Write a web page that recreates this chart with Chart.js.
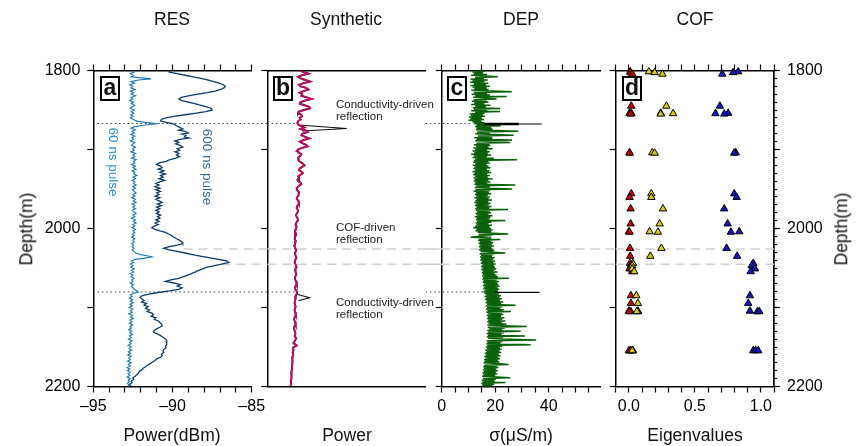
<!DOCTYPE html>
<html>
<head>
<meta charset="utf-8">
<script src="https://cdn.jsdelivr.net/npm/chart.js"></script>
<style>
  html, body { margin: 0; padding: 0; background: #fff; }
  #wrap { position: relative; width: 858px; height: 446px; overflow: hidden;
          font-family: "Liberation Sans", Arial, sans-serif; color: #111; }
  canvas { position: absolute; left: 0; top: 0; }
  .t { position: absolute; white-space: nowrap; line-height: 1; transform: translate(-50%, -50%); z-index: 5; font-size: 17.5px; }
  .rot90 { transform: translate(-50%, -50%) rotate(90deg); }
  .rotm90 { transform: translate(-50%, -50%) rotate(-90deg); }
  .box { position: absolute; width: 20px; height: 25px; box-sizing: border-box; border: 2px solid #000;
         background: #fff; font-weight: bold; font-size: 23px; line-height: 19px; text-align: center; z-index: 5; }
  .note { position: absolute; font-size: 11.5px; line-height: 12px; color: #222; white-space: nowrap; z-index: 5; }
</style>
</head>
<body>
<div id="wrap">
  <canvas id="cA" width="858" height="446"></canvas>
  <canvas id="cB" width="858" height="446"></canvas>
  <canvas id="cC" width="858" height="446"></canvas>
  <canvas id="cD" width="858" height="446"></canvas>

  <div class="t" style="left:172px;top:20px">RES</div>
  <div class="t" style="left:346px;top:20px">Synthetic</div>
  <div class="t" style="left:521px;top:20px">DEP</div>
  <div class="t" style="left:695px;top:20px">COF</div>

  <div class="t" style="left:172px;top:436px">Power(dBm)</div>
  <div class="t" style="left:347px;top:436px">Power</div>
  <div class="t" style="left:521px;top:436px">σ(μS/m)</div>
  <div class="t" style="left:695px;top:436px">Eigenvalues</div>

  <div class="t rotm90" style="left:27px;top:229px">Depth(m)</div>
  <div class="t rotm90" style="left:842px;top:229px">Depth(m)</div>

  <div class="t rot90" style="left:113px;top:162px;font-size:13.5px;color:#2e8fc9">60 ns pulse</div>
  <div class="t rot90" style="left:207px;top:167px;font-size:13.5px;color:#3a6a9c">600 ns pulse</div>

  <div class="box" style="left:100px;top:76px">a</div>
  <div class="box" style="left:273px;top:76px">b</div>
  <div class="box" style="left:447px;top:76px">c</div>
  <div class="box" style="left:622px;top:76px">d</div>

  <div class="note" style="left:336px;top:98px">Conductivity-driven<br>reflection</div>
  <div class="note" style="left:336px;top:221px">COF-driven<br>reflection</div>
  <div class="note" style="left:336px;top:296px">Conductivity-driven<br>reflection</div>
</div>

<script>
// tick labels
const depthTicks = [1800, 2000, 2200];
const resTicks = [-95, -90, -85];
const depTicks = [0, 20, 40];
const eigTicks = [0, 0.5, 1];

// reference lines (depth, m)
const dottedDepth = [1867.1, 2080.4];
const dashedDepth = [2026, 2045.3];

// RES, 60 ns pulse
const d60 = [
  1800,1802,1804,1806,1808,1809,1810.5,1812,1814,1816,
  1818,1820,1822,1824,1826,1828,1830,1832,1834,1836,
  1838,1840,1842,1844,1846,1848,1850,1852,1854,1856,
  1858,1860,1862,1864,1866,1867.5,1869,1871,1873,1875,
  1877,1879,1881,1883,1885,1887,1889,1891,1893,1895,
  1897,1899,1901,1903,1905,1907,1909,1911,1913,1915,
  1917,1919,1921,1923,1925,1927,1929,1931,1933,1935,
  1937,1939,1941,1943,1945,1947,1949,1951,1953,1955,
  1957,1959,1961,1963,1965,1967,1969,1971,1973,1975,
  1977,1979,1981,1983,1985,1987,1989,1991,1993,1995,
  1997,1999,2001,2003,2005,2007,2009,2011,2013,2015,
  2017,2019,2021,2023,2025,2027,2029,2031,2033,2034.5,
  2036,2037.5,2039,2041,2043,2045,2047,2049,2051,2053,
  2055,2057,2059,2061,2063,2065,2067,2069,2071,2073,
  2075,2077,2079,2080.5,2082,2084,2086,2088,2090,2092,
  2094,2096,2098,2100,2102,2104,2106,2108,2110,2112,
  2114,2116,2118,2120,2122,2124,2126,2128,2130,2132,
  2134,2136,2138,2140,2142,2144,2146,2148,2150,2152,
  2154,2156,2158,2160,2162,2164,2166,2168,2170,2172,
  2174,2176,2178,2180,2182,2184,2186,2188,2190,2192,
  2194,2196,2198,2200
];
const p60 = [
  -92.55,-92.42,-92.66,-92.47,-92.60,-92.10,-91.35,-92.15,-92.62,-92.42,
  -92.70,-92.50,-92.63,-92.38,-92.66,-92.46,-92.60,-92.34,-92.62,-92.50,
  -92.70,-92.46,-92.60,-92.38,-92.55,-92.66,-92.42,-92.60,-92.46,-92.63,
  -92.50,-92.66,-92.46,-92.25,-91.60,-91.00,-91.70,-92.40,-92.62,-92.34,
  -92.55,-92.42,-92.62,-92.38,-92.55,-92.46,-92.66,-92.38,-92.50,-92.58,
  -92.34,-92.50,-92.42,-92.62,-92.34,-92.50,-92.38,-92.58,-92.30,-92.46,
  -92.38,-92.58,-92.34,-92.50,-92.30,-92.54,-92.38,-92.46,-92.26,-92.50,
  -92.34,-92.54,-92.38,-92.46,-92.30,-92.50,-92.34,-92.54,-92.42,-92.30,
  -92.50,-92.38,-92.58,-92.34,-92.46,-92.30,-92.54,-92.38,-92.50,-92.34,
  -92.54,-92.42,-92.30,-92.50,-92.38,-92.58,-92.34,-92.46,-92.30,-92.50,
  -92.38,-92.54,-92.34,-92.50,-92.38,-92.54,-92.42,-92.58,-92.38,-92.50,
  -92.42,-92.58,-92.46,-92.55,-92.42,-92.55,-92.46,-92.32,-92.00,-91.60,
  -91.30,-91.75,-92.35,-92.58,-92.46,-92.66,-92.50,-92.63,-92.42,-92.58,
  -92.46,-92.66,-92.50,-92.63,-92.42,-92.58,-92.50,-92.66,-92.46,-92.58,
  -92.50,-92.40,-92.25,-92.15,-92.45,-92.66,-92.55,-92.72,-92.52,-92.65,
  -92.48,-92.68,-92.55,-92.72,-92.52,-92.65,-92.56,-92.76,-92.52,-92.65,
  -92.48,-92.68,-92.56,-92.72,-92.52,-92.68,-92.60,-92.76,-92.56,-92.70,
  -92.52,-92.72,-92.60,-92.78,-92.56,-92.70,-92.62,-92.80,-92.60,-92.74,
  -92.58,-92.78,-92.65,-92.82,-92.62,-92.75,-92.66,-92.83,-92.62,-92.78,
  -92.66,-92.86,-92.70,-92.84,-92.67,-92.80,-92.70,-92.86,-92.67,-92.80,
  -92.72,-92.84,-92.75,-92.80
];

// RES, 600 ns pulse
const d600 = [
  1800,1802,1804,1806,1808,1810,1812,1814,1816,1818,
  1820,1822,1824,1826,1828,1830,1832,1834,1836,1838,
  1840,1842,1844,1846,1848,1850,1852,1854,1856,1858,
  1860,1862,1864,1866,1868,1870,1872,1874,1875.5,1877,
  1879,1880.5,1882,1884,1885.5,1887,1889,1891,1893,1895,
  1897,1899,1901,1903,1905,1907,1909,1911,1913,1915,
  1917,1919,1921,1923,1925,1927,1929,1931,1933,1935,
  1937,1939,1941,1943,1945,1947,1949,1951,1953,1955,
  1957,1959,1961,1963,1965,1967,1969,1971,1973,1975,
  1977,1979,1981,1983,1985,1987,1989,1991,1993,1995,
  1997,1999,2001,2003,2005,2007,2009,2011,2013,2015,
  2017,2019,2021,2023,2025,2027,2029,2031,2033,2035,
  2037,2039,2041,2043,2045,2047,2049,2051,2053,2055,
  2057,2059,2061,2063,2065,2067,2069,2071,2073,2075,
  2077,2079,2081,2083,2085,2087,2089,2091,2093,2095,
  2097,2099,2101,2103,2105,2107,2109,2111,2113,2115,
  2117,2119,2121,2123,2125,2127,2129,2131,2133,2135,
  2137,2139,2141,2143,2145,2147,2149,2151,2153,2155,
  2157,2159,2161,2163,2165,2167,2169,2171,2173,2175,
  2177,2179,2181,2183,2185,2187,2189,2191,2193,2195,
  2197,2199,2200
];
const p600 = [
  -90.25,-90.20,-89.70,-89.20,-88.70,-88.20,-87.80,-87.40,-87.05,-86.80,
  -86.66,-86.75,-86.95,-87.30,-87.80,-88.40,-89.00,-89.45,-89.60,-89.40,
  -89.00,-88.60,-88.20,-87.85,-87.55,-87.50,-87.90,-88.50,-89.20,-89.90,
  -90.40,-90.70,-90.75,-90.30,-89.90,-89.75,-89.55,-89.35,-89.60,-89.20,
  -89.00,-89.40,-89.15,-89.25,-88.95,-89.45,-89.85,-89.60,-89.80,-89.50,
  -89.35,-89.70,-89.55,-89.85,-89.60,-89.75,-89.55,-89.80,-90.20,-90.40,
  -90.85,-91.00,-90.75,-90.65,-90.90,-90.55,-90.80,-90.45,-90.75,-90.60,
  -90.85,-90.50,-90.80,-91.05,-90.85,-91.10,-90.80,-91.05,-90.75,-91.00,
  -90.85,-91.10,-90.80,-91.05,-90.85,-90.65,-90.95,-90.70,-91.00,-90.80,
  -91.05,-90.85,-91.00,-90.75,-90.95,-90.80,-91.05,-90.85,-91.10,-90.90,
  -91.15,-91.30,-91.10,-90.80,-90.45,-90.25,-90.05,-89.90,-89.75,-89.55,
  -89.40,-89.35,-89.70,-90.20,-90.55,-90.20,-89.70,-89.20,-88.75,-88.25,
  -87.70,-87.10,-86.60,-86.45,-86.90,-87.35,-87.80,-88.10,-88.35,-88.55,
  -88.80,-89.05,-89.30,-89.60,-90.10,-90.45,-89.90,-89.50,-89.70,-89.40,
  -89.60,-90.20,-90.90,-91.50,-91.90,-92.05,-91.95,-91.80,-91.95,-91.65,
  -91.80,-91.55,-91.70,-91.45,-91.60,-91.30,-91.20,-91.35,-91.05,-91.15,
  -90.90,-90.80,-90.70,-90.65,-90.80,-91.00,-91.15,-91.20,-91.00,-90.80,
  -90.65,-90.50,-90.40,-90.35,-90.40,-90.35,-90.45,-90.40,-90.55,-90.60,
  -90.55,-90.70,-90.65,-90.75,-91.00,-91.10,-91.25,-91.40,-91.60,-91.70,
  -91.85,-91.95,-92.10,-92.15,-92.25,-92.35,-92.50,-92.45,-92.60,-92.55,
  -92.70,-92.65,-92.75
];

// Synthetic trace (arbitrary power units, 0-100 across the panel)
const dSyn = [
  1800,1802,1804,1806,1808,1810,1812,1814,1816,1818,
  1820,1822,1824,1826,1828,1830,1832,1834,1836,1838,
  1840,1842,1844,1846,1848,1850,1852,1854,1856,1858,
  1860,1862,1864,1866,1868,1870,1872,1874,1876,1878,
  1880,1882,1884,1886,1888,1890,1892,1894,1896,1898,
  1900,1902,1904,1906,1908,1910,1912,1914,1916,1918,
  1920,1922,1924,1926,1928,1930,1932,1934,1936,1938,
  1940,1942,1944,1946,1948,1950,1952,1954,1956,1958,
  1960,1962,1965,1968,1971,1974,1977,1980,1983,1986,
  1989,1992,1995,1998,2001,2004,2007,2010,2013,2016,
  2019,2022,2025,2028,2031,2034,2037,2040,2043,2046,
  2049,2052,2055,2058,2061,2064,2067,2070,2073,2076,
  2079,2082,2085,2088,2091,2094,2097,2100,2103,2106,
  2109,2112,2115,2118,2121,2124,2127,2130,2133,2136,
  2139,2142,2145,2148,2151,2154,2157,2160,2163,2166,
  2169,2172,2175,2178,2181,2184,2187,2190,2193,2196,
  2200
];
const synth = [
  20.5,23,26,22,19.5,21,24,27,23,20,
  21,24.5,26,23,20.5,22,21.5,25,28,24,
  21,20.5,23.5,26.5,27,23,20,19.5,21.5,22,
  20.5,21,19.5,19,19.2,21,23.5,21,24.5,25.5,
  22,21.5,24,26.5,23,20.5,22,24.5,25.5,22,
  19.5,18.5,20,21.5,21,19.5,20,19.5,21,22.5,
  23.5,22,20.5,20,21.5,22.5,21,19.5,20,19,
  19.5,21,21.5,20,19,18.5,19,20,19.5,20,
  19,18.5,19.5,20,19,18.5,19.5,19,18,18.8,
  19.5,18.5,17.8,18.5,18,17.5,18.2,17.8,17.2,18,
  17.6,17,17.8,18.2,17.4,17.8,18.4,17.6,17.2,18,
  18.5,17.5,17.8,18.4,17.6,17.4,18.2,18.6,17.8,17.5,
  18.4,18.8,18,17.6,17.8,17.2,17.6,17.8,17.2,17.5,
  18,17.3,16.8,17.5,17.9,17.1,16.8,17.4,17.8,17.3,
  18.2,17.5,16.5,18.6,16.2,16.6,16,16.4,15.8,16.1,
  15.6,15.9,15.4,15.8,15.2,15.5,15,15.3,14.8,15.1,
  14.6
];
// conductivity-driven spikes in the synthetic trace
const synSpike1Depth = [1869, 1873.5, 1876.5];
const synSpike1 = [19.5, 50.2, 22];
const synSpike2Depth = [2083.3, 2087.6, 2091.4];
const synSpike2 = [18.7, 26.7, 19.7];

// DEP conductivity (µS/m), 1 m samples
const dDep = [
  1800,1801,1802,1803,1804,1805,1806,1807,1808,1809,1810,1811,1812,1813,1814,1815,1816,1817,1818,1819,
  1820,1821,1822,1823,1824,1825,1826,1827,1828,1829,1830,1831,1832,1833,1834,1835,1836,1837,1838,1839,
  1840,1841,1842,1843,1844,1845,1846,1847,1848,1849,1850,1851,1852,1853,1854,1855,1856,1857,1858,1859,
  1860,1861,1862,1863,1864,1865,1866,1867,1868,1869,1870,1871,1872,1873,1874,1875,1876,1877,1878,1879,
  1880,1881,1882,1883,1884,1885,1886,1887,1888,1889,1890,1891,1892,1893,1894,1895,1896,1897,1898,1899,
  1900,1901,1902,1903,1904,1905,1906,1907,1908,1909,1910,1911,1912,1913,1914,1915,1916,1917,1918,1919,
  1920,1921,1922,1923,1924,1925,1926,1927,1928,1929,1930,1931,1932,1933,1934,1935,1936,1937,1938,1939,
  1940,1941,1942,1943,1944,1945,1946,1947,1948,1949,1950,1951,1952,1953,1954,1955,1956,1957,1958,1959,
  1960,1961,1962,1963,1964,1965,1966,1967,1968,1969,1970,1971,1972,1973,1974,1975,1976,1977,1978,1979,
  1980,1981,1982,1983,1984,1985,1986,1987,1988,1989,1990,1991,1992,1993,1994,1995,1996,1997,1998,1999,
  2000,2001,2002,2003,2004,2005,2006,2007,2008,2009,2010,2011,2012,2013,2014,2015,2016,2017,2018,2019,
  2020,2021,2022,2023,2024,2025,2026,2027,2028,2029,2030,2031,2032,2033,2034,2035,2036,2037,2038,2039,
  2040,2041,2042,2043,2044,2045,2046,2047,2048,2049,2050,2051,2052,2053,2054,2055,2056,2057,2058,2059,
  2060,2061,2062,2063,2064,2065,2066,2067,2068,2069,2070,2071,2072,2073,2074,2075,2076,2077,2078,2079,
  2080,2081,2082,2083,2084,2085,2086,2087,2088,2089,2090,2091,2092,2093,2094,2095,2096,2097,2098,2099,
  2100,2101,2102,2103,2104,2105,2106,2107,2108,2109,2110,2111,2112,2113,2114,2115,2116,2117,2118,2119,
  2120,2121,2122,2123,2124,2125,2126,2127,2128,2129,2130,2131,2132,2133,2134,2135,2136,2137,2138,2139,
  2140,2141,2142,2143,2144,2145,2146,2147,2148,2149,2150,2151,2152,2153,2154,2155,2156,2157,2158,2159,
  2160,2161,2162,2163,2164,2165,2166,2167,2168,2169,2170,2171,2172,2173,2174,2175,2176,2177,2178,2179,
  2180,2181,2182,2183,2184,2185,2186,2187,2188,2189,2190,2191,2192,2193,2194,2195,2196,2197,2198,2199,
  2200
];
const sigma = [
  12.5,16.0,11.5,15.5,12.0,17.0,11.0,16.5,21.0,12.5,15.8,10.8,17.2,11.5,16.0,10.6,17.5,12.0,16.5,10.8,
  18.0,11.5,16.8,12.2,17.5,11.0,19.5,26.2,12.0,17.0,11.2,18.0,12.5,24.3,11.8,16.5,20.5,12.0,16.8,11.3,
  17.5,12.2,16.0,11.0,18.2,12.5,16.5,11.6,21.9,12.0,17.0,11.0,21.8,12.5,16.0,10.5,15.5,11.0,16.2,10.2,
  15.0,10.8,15.8,10.0,14.8,11.5,16.0,12.0,16.5,13.0,22.0,12.5,18.5,13.0,19.0,12.8,20.0,28.6,13.2,18.0,
  12.5,19.5,26.9,13.5,18.8,12.2,19.0,13.0,26.3,12.5,18.5,25.6,13.0,17.8,12.0,18.2,12.8,17.5,11.8,19.0,
  12.5,17.0,11.5,18.0,12.2,17.2,11.0,18.5,12.0,17.0,11.5,19.5,12.5,28.2,12.0,17.5,11.8,18.0,12.5,16.8,
  11.6,17.5,12.3,18.2,11.8,16.9,12.5,17.8,11.5,18.5,12.2,17.0,11.8,18.0,12.5,17.2,11.9,19.0,12.4,17.5,
  12.0,18.2,12.6,17.0,12.2,27.5,12.8,18.0,12.3,17.5,26.3,12.6,18.2,12.0,17.6,12.8,18.5,12.4,17.2,12.9,
  18.0,12.2,17.5,13.0,18.8,12.6,17.4,12.2,18.2,12.9,17.6,12.4,18.6,13.0,17.8,12.5,24.8,12.8,18.0,13.2,
  18.5,12.6,17.5,13.0,19.0,12.4,18.2,13.1,17.8,12.8,23.8,13.2,18.6,12.7,17.5,13.0,18.8,12.5,17.9,11.8,
  18.4,13.0,19.0,12.6,18.5,13.5,19.2,24.8,13.8,18.8,13.4,10.8,18.5,14.0,21.9,13.6,18.6,14.2,19.2,13.8,
  18.8,14.2,19.5,13.9,18.6,14.4,19.0,14.0,19.6,14.5,18.9,23.8,14.2,19.4,14.7,18.8,14.3,19.8,14.8,19.2,
  14.4,20.0,15.0,19.3,14.6,20.2,15.1,19.5,14.7,19.9,15.2,20.4,14.8,19.6,15.3,20.8,15.0,19.8,15.4,20.5,
  15.1,21.0,15.5,25.2,15.2,20.6,15.6,21.4,15.3,20.8,15.8,21.2,15.4,21.6,15.9,20.9,15.5,21.5,16.0,21.0,
  15.6,22.0,16.0,21.4,16.4,22.2,16.0,21.6,16.6,22.5,16.2,21.8,16.8,23.0,16.4,22.2,16.9,27.6,16.5,22.6,
  17.0,21.9,16.6,23.2,17.1,25.9,16.7,22.4,17.2,23.0,16.8,22.2,17.3,23.4,16.9,22.6,17.4,23.8,17.0,22.4,
  17.5,24.2,17.1,22.8,31.8,17.2,23.6,17.6,22.6,17.0,29.5,17.4,23.2,16.8,22.4,17.2,31.1,16.9,23.0,17.3,
  22.2,35.3,16.8,22.8,17.1,22.0,16.7,33.2,17.0,22.6,16.5,21.8,16.9,22.4,16.3,21.6,16.7,22.2,16.1,21.4,
  16.5,22.0,15.9,21.2,16.3,21.8,15.8,21.0,16.1,21.6,15.7,20.8,25.0,15.9,20.6,15.5,21.2,15.8,20.4,15.4,
  21.0,15.7,20.2,15.2,20.8,15.6,20.0,15.1,20.6,25.6,15.4,20.2,14.9,19.8,15.3,23.8,14.8,19.6,15.2,19.0,
  14.6
];
// black conductivity peaks at the two reflections
const depPeakDepth = [1867.7, 2080.8];
const depPeakBase = [16, 20];
const depPeakTop = [37.4, 36.5];
const depPeakThick = [28.8, 20];

// COF eigenvalues
const cofDepth = [1801.5, 1802.5, 1804.5, 1845, 1854, 1854.5, 1855, 1904, 1904.5, 1956, 1960.5, 1975, 1994,
  2004, 2004.5, 2025, 2035, 2044, 2047, 2051, 2054.5, 2085, 2094.7, 2104.4, 2105.3, 2105, 2154.6, 2154.6, 2154.6];
const eigRed = [0.010, 0.012, 0.026, 0.018, 0.005, 0.020, 0.012, 0.005, 0.005, 0.018, 0.005, 0.013, 0.013,
  0.000, 0.005, 0.008, 0.010, 0.008, 0.015, 0.005, 0.025, 0.015, 0.015, 0.000, 0.015, 0.005, 0.000, 0.015, 0.010];
const eigYellow = [0.152, 0.195, 0.254, 0.284, 0.241, 0.335, 0.241, 0.177, 0.195, 0.170, 0.170, 0.258, 0.233,
  0.157, 0.220, 0.246, 0.162, 0.030, 0.025, 0.025, 0.040, 0.056, 0.068, 0.068, 0.068, 0.060, 0.030, 0.030, 0.025];
const eigBlue = [0.828, 0.790, 0.707, 0.689, 0.752, 0.656, 0.722, 0.809, 0.798, 0.798, 0.816, 0.722, 0.748,
  0.836, 0.773, 0.740, 0.820, 0.942, 0.930, 0.955, 0.922, 0.917, 0.904, 0.917, 0.973, 0.988, 0.942, 0.960, 0.980];

// ---------- layout ----------
const W = 858, H = 446;
const TOP = 70.5, BOTTOM = 386.5, PW = 158.4;
const LEFTS = [93.3, 267.3, 441.7, 615.7];

Chart.defaults.font.family = '"Liberation Sans", Arial, sans-serif';
Chart.defaults.color = '#000';
Chart.defaults.animation = false;

function pts(vals, depths) {
  return vals.map((v, i) => ({ x: v, y: depths[i] }));
}
function hline(depth, x0, x1) {
  return [{ x: x0, y: depth }, { x: x1, y: depth }];
}

function xAxis(position, min, max, step, labelFn) {
  return {
    type: 'linear', position, min, max,
    ticks: {
      stepSize: step || (max - min), autoSkip: false, maxRotation: 0, includeBounds: false,
      padding: 4, font: { size: 16 }, color: '#000',
      callback: labelFn || (() => '')
    },
    grid: { drawOnChartArea: false, drawTicks: !!step, tickLength: 6, tickColor: '#000', tickWidth: 1.2 },
    border: { display: true, color: '#000', width: 1.5 },
    afterFit: s => { s.height = position === 'top' ? 20 : 40; }
  };
}

function yAxis(position, step, tickLen, labelFn, width, weight) {
  return {
    type: 'linear', position, reverse: true, min: 1800, max: 2200, weight: weight || 0,
    ticks: { stepSize: step, autoSkip: false, padding: 7, font: { size: 16 }, color: '#000',
             callback: labelFn || (() => '') },
    grid: { drawOnChartArea: false, drawTicks: true, tickLength: tickLen, tickColor: '#000', tickWidth: 1.2 },
    border: { display: true, color: '#000', width: 1.5 },
    afterFit: s => { s.width = width; }
  };
}

function layoutFor(left, rightW) {
  return { padding: { left: left - 60, right: W - (left + PW) - rightW, top: TOP - 20, bottom: H - BOTTOM - 40 } };
}

const depthLabel = v => depthTicks.includes(v) ? String(v) : '';

function lineSet(data, color, width, order, extra) {
  return Object.assign({ data, showLine: true, borderColor: color, borderWidth: width, pointRadius: 0, order }, extra || {});
}
const dotted = { borderDash: [1.5, 2.8], clip: false };
const dashed = { borderDash: [9, 6], clip: false };
const DOT = '#444', DASH = '#cfcfcf';

function baseOptions(left, rightW, scales) {
  return {
    responsive: false, events: [],
    layout: layoutFor(left, rightW),
    plugins: { legend: { display: false }, tooltip: { enabled: false } },
    elements: { line: { tension: 0 } },
    scales
  };
}

// a: RES
new Chart(document.getElementById('cA'), {
  type: 'scatter',
  data: { datasets: [
    lineSet(pts(p600, d600), '#0f3a6c', 1.3, 1),
    lineSet(pts(p60, d60), '#1f7bb6', 1.2, 2),
    lineSet(hline(dottedDepth[0], -95, -84), DOT, 1.2, 5, dotted),
    lineSet(hline(dottedDepth[1], -95, -84), DOT, 1.2, 5, dotted),
    lineSet(hline(dashedDepth[0], -89.3, -84), DASH, 1.5, 6, dashed),
    lineSet(hline(dashedDepth[1], -86.9, -84), DASH, 1.5, 6, dashed)
  ] },
  options: baseOptions(LEFTS[0], 0, {
    x: xAxis('bottom', -95, -85, 1, v => resTicks.includes(v) ? '\u2013' + Math.abs(v) : ''),
    x2: xAxis('top', -95, -85, 1),
    y: yAxis('left', 100, 6, depthLabel, 60)
  })
});

// b: Synthetic
new Chart(document.getElementById('cB'), {
  type: 'scatter',
  data: { datasets: [
    lineSet(pts(synth, dSyn), '#d6006e', 1.5, 1),
    lineSet(pts(synth, dSyn), '#222', 1.9, 2),
    lineSet(pts(synSpike1, synSpike1Depth), '#111', 1.1, 2),
    lineSet(pts(synSpike2, synSpike2Depth), '#111', 1.1, 2),
    lineSet(hline(dottedDepth[0], 0, 19.5), DOT, 1.2, 5, dotted),
    lineSet(hline(dottedDepth[1], 0, 18.5), DOT, 1.2, 5, dotted),
    lineSet(hline(dashedDepth[0], 0, 110), DASH, 1.5, 6, dashed),
    lineSet(hline(dashedDepth[1], 0, 110), DASH, 1.5, 6, dashed)
  ] },
  options: baseOptions(LEFTS[1], 0, {
    x: xAxis('bottom', 0, 100, null),
    x2: xAxis('top', 0, 100, null),
    y: yAxis('left', 100, 6, null, 60)
  })
});

// c: DEP
new Chart(document.getElementById('cC'), {
  type: 'scatter',
  data: { datasets: [
    lineSet(pts(sigma, dDep), '#0a610a', 1.5, 2),
    lineSet(hline(depPeakDepth[0], depPeakBase[0], depPeakTop[0]), '#000', 1.2, 1),
    lineSet(hline(depPeakDepth[0], depPeakBase[0], depPeakThick[0]), '#000', 2.6, 1),
    lineSet(hline(depPeakDepth[1], depPeakBase[1], depPeakTop[1]), '#000', 1.2, 1),
    lineSet(hline(dottedDepth[0], -6, 11.5), DOT, 1.2, 5, dotted),
    lineSet(hline(dottedDepth[1], -6, 15.5), DOT, 1.2, 5, dotted),
    lineSet(hline(dashedDepth[0], -6, 65), DASH, 1.5, 6, dashed),
    lineSet(hline(dashedDepth[1], -6, 65), DASH, 1.5, 6, dashed)
  ] },
  options: baseOptions(LEFTS[2], 0, {
    x: xAxis('bottom', 0, 59.2, 5, v => depTicks.includes(v) ? String(v) : ''),
    x2: xAxis('top', 0, 59.2, 5),
    y: yAxis('left', 100, 6, null, 60)
  })
});

// d: COF
const tri = (vals, color, order) => ({
  data: pts(vals, cofDepth), pointStyle: 'triangle', pointRadius: 4.3,
  backgroundColor: color, borderColor: '#000', borderWidth: 1, clip: false, order
});
new Chart(document.getElementById('cD'), {
  type: 'scatter',
  data: { datasets: [
    tri(eigBlue, '#1414c8', 1),
    tri(eigYellow, '#d9cc0a', 2),
    tri(eigRed, '#d00000', 3),
    lineSet(hline(dashedDepth[0], -0.1, 1.1), DASH, 1.5, 6, dashed),
    lineSet(hline(dashedDepth[1], -0.1, 1.1), DASH, 1.5, 6, dashed)
  ] },
  options: baseOptions(LEFTS[3], 60, {
    x: xAxis('bottom', -0.1, 1.1, 0.1, v => {
      const r = Math.round(v * 10) / 10;
      return eigTicks.includes(r) ? r.toFixed(1) : '';
    }),
    x2: xAxis('top', -0.1, 1.1, 0.1),
    y: yAxis('left', 100, 6, null, 60),
    yMinor: yAxis('right', 10, 3, null, 0, 0),
    yMajor: yAxis('right', 100, 6, depthLabel, 60, 1)
  })
});
</script>
</body>
</html>
